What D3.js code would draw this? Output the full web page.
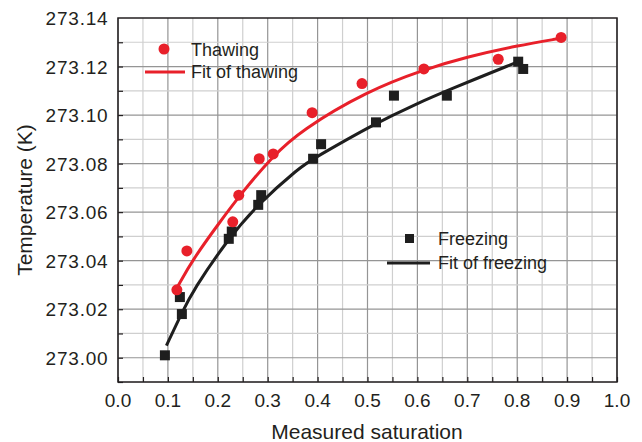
<!DOCTYPE html>
<html><head><meta charset="utf-8">
<script src="https://cdn.jsdelivr.net/npm/d3@7/dist/d3.min.js"></script>
<style>body{margin:0;background:#fff}svg{display:block}text{font-family:"Liberation Sans",Arial,sans-serif;fill:#231f20}</style>
</head><body><svg id="c" width="642" height="442"></svg>
<script>
const xTicks = [0.0,0.1,0.2,0.3,0.4,0.5,0.6,0.7,0.8,0.9,1.0];
const yTicks = [273.00,273.02,273.04,273.06,273.08,273.10,273.12,273.14];
const thawX = [0.118,0.138,0.230,0.242,0.283,0.311,0.389,0.489,0.613,0.762,0.888];
const thawY = [273.028,273.044,273.056,273.067,273.082,273.084,273.101,273.113,273.119,273.123,273.132];
const freezeX = [0.094,0.124,0.128,0.222,0.228,0.281,0.287,0.391,0.407,0.517,0.553,0.659,0.802,0.812];
const freezeY = [273.001,273.025,273.018,273.049,273.052,273.063,273.067,273.082,273.088,273.097,273.108,273.108,273.122,273.119];
const thawFitX = [0.12,0.15,0.20,0.25,0.31,0.365,0.50,0.614,0.70,0.80,0.886];
const thawFitY = [273.0295,273.0405,273.0548,273.0685,273.083,273.0935,273.1100,273.1188,273.124,273.1286,273.1316];
const freezeFitX = [0.097,0.128,0.151,0.221,0.278,0.365,0.391,0.517,0.60,0.659,0.802];
const freezeFitY = [273.005,273.0185,273.028,273.049,273.0628,273.0786,273.082,273.0968,273.1048,273.1101,273.122];

const svg = d3.select('#c');
const L=118,R=617,T=18,B=382;
const x = d3.scaleLinear().domain([0,1]).range([L,R]);
const y = d3.scaleLinear().domain([272.99,273.14]).range([B,T]);
const red = '#e8202a', blk = '#1e1e1e';

// grid
const g = svg.append('g');
d3.range(0,1.0001,0.05).forEach((v,i)=>{
  g.append('line').attr('x1',x(v)).attr('x2',x(v)).attr('y1',T).attr('y2',B)
   .attr('stroke', i%2===0 ? '#959595' : '#cfcfcf').attr('stroke-width',1.2);
});
d3.range(0,15).forEach(i=>{
  const v = 272.99 + i*0.01;
  g.append('line').attr('x1',L).attr('x2',R).attr('y1',y(v)).attr('y2',y(v))
   .attr('stroke', i%2===1 ? '#959595' : '#cfcfcf').attr('stroke-width',1.2);
});

// axes
const xAxis = d3.axisBottom(x).tickValues(d3.range(0,1.0001,0.05)).tickSize(-5).tickFormat('');
const ax = svg.append('g').attr('transform',`translate(0,${B})`).call(xAxis);
const yAxis = d3.axisLeft(y).tickValues(d3.range(0,15).map(i=>272.99+i*0.01)).tickSize(-5).tickFormat('');
const ay = svg.append('g').attr('transform',`translate(${L},0)`).call(yAxis);
[ax,ay].forEach(a=>{a.select('.domain').remove(); a.selectAll('line').attr('stroke','#231f20').attr('stroke-width',1.2);});
svg.append('rect').attr('x',L).attr('y',T).attr('width',R-L).attr('height',B-T)
  .attr('fill','none').attr('stroke','#231f20').attr('stroke-width',1.5);

// tick labels
svg.append('g').selectAll('text').data(xTicks).join('text')
  .attr('x',d=>x(d)).attr('y',407).attr('text-anchor','middle').attr('font-size',19)
  .text(d=>d.toFixed(1));
svg.append('g').selectAll('text').data(yTicks).join('text')
  .attr('x',108.5).attr('y',d=>y(d)+7).attr('text-anchor','end').attr('font-size',19).attr('letter-spacing',0.8)
  .text(d=>d.toFixed(2));

// titles
svg.append('text').attr('x',367).attr('y',439).attr('text-anchor','middle').attr('font-size',21).text('Measured saturation');
svg.append('text').attr('transform','translate(32,200) rotate(-90)').attr('text-anchor','middle').attr('font-size',21).text('Temperature (K)');

// fits
const line = d3.line().x(d=>x(d[0])).y(d=>y(d[1])).curve(d3.curveBasis);
svg.append('path').attr('d',line(thawFitX.map((v,i)=>[v,thawFitY[i]]))).attr('fill','none').attr('stroke',red).attr('stroke-width',3);
svg.append('path').attr('d',line(freezeFitX.map((v,i)=>[v,freezeFitY[i]]))).attr('fill','none').attr('stroke',blk).attr('stroke-width',3);

// points
svg.append('g').selectAll('rect').data(freezeX.map((v,i)=>[v,freezeY[i]])).join('rect')
  .attr('x',d=>x(d[0])-5).attr('y',d=>y(d[1])-5).attr('width',10).attr('height',10).attr('fill',blk);
svg.append('g').selectAll('circle').data(thawX.map((v,i)=>[v,thawY[i]])).join('circle')
  .attr('cx',d=>x(d[0])).attr('cy',d=>y(d[1])).attr('r',5.5).attr('fill',red);

// legends
svg.append('circle').attr('cx',164).attr('cy',49).attr('r',5.5).attr('fill',red);
svg.append('text').attr('x',191).attr('y',56).attr('font-size',18).text('Thawing');
svg.append('line').attr('x1',145).attr('x2',185).attr('y1',72).attr('y2',72).attr('stroke',red).attr('stroke-width',3);
svg.append('text').attr('x',191).attr('y',78).attr('font-size',18).text('Fit of thawing');

svg.append('rect').attr('x',405).attr('y',234).attr('width',9).attr('height',9).attr('fill',blk);
svg.append('text').attr('x',438).attr('y',245).attr('font-size',18).text('Freezing');
svg.append('line').attr('x1',387).attr('x2',430).attr('y1',263).attr('y2',263).attr('stroke',blk).attr('stroke-width',3);
svg.append('text').attr('x',438).attr('y',269).attr('font-size',18).text('Fit of freezing');
</script></body></html>
